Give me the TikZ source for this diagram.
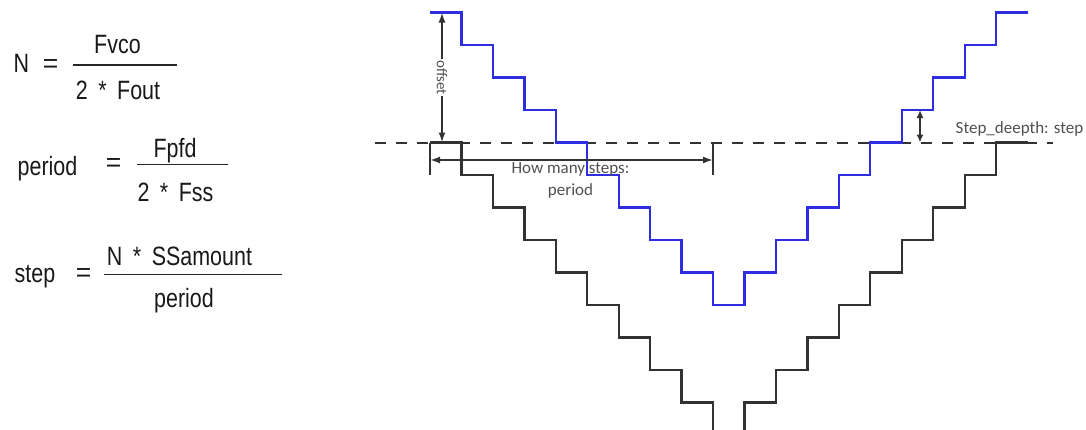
\documentclass[tikz,border=0pt]{standalone}
\usepackage{fontspec}
\setmainfont{Liberation Sans}
\newfontfamily\eqfont[FakeStretch=0.81]{Liberation Sans}
\newfontfamily\lblfont{Carlito}
\usetikzlibrary{arrows.meta}
\definecolor{stairblue}{RGB}{45,45,225}
\definecolor{stairdark}{RGB}{50,50,50}
\definecolor{lblgray}{RGB}{80,80,80}
\newcommand\eqgap{\hspace{10.5pt}}
\tikzset{
  eqtext/.style={font=\eqfont\fontsize{26.5}{30}\selectfont, inner sep=0pt, anchor=base, text=black!90},
  eqsign/.style={font=\fontsize{26.5}{30}\selectfont, inner sep=0pt, anchor=center, text=black!90},
  fracbar/.style={line width=1.4pt, draw=black!85},
  blueline/.style={draw=stairblue, line width=2.3pt},
  darkline/.style={draw=stairdark, line width=2.3pt},
  dimline/.style={{Latex[length=10pt,width=7pt]}-{Latex[length=10pt,width=7pt]}, line width=1.8pt, draw=stairdark},
  tickline/.style={draw=stairdark, line width=2pt},
  dashline/.style={draw=stairdark, line width=2pt, dash pattern=on 11pt off 10pt},
  lbl/.style={font=\lblfont\fontsize{17}{21}\selectfont, text=lblgray, inner sep=0pt},
}
\begin{document}
\begin{tikzpicture}[x=1pt,y=-1pt]
\useasboundingbox (0,0) rectangle (1086,429);
% ---- equations
\node[eqtext] (nL) at (21.5,72.7) {N};
\node[eqsign] (nEq) at (50.5,65.5) {=};
\draw[fracbar] (73,65) -- (177,65);
\node[eqtext] (nNum) at (117.5,53.8) {Fvco};
\node[eqtext] (nDen) at (118,99.5) {2\eqgap*\eqgap Fout};

\node[eqtext] (pL) at (47.5,175) {period};
\node[eqsign] (pEq) at (113.5,164.5) {=};
\draw[fracbar] (137,164.3) -- (228,164.3);
\node[eqtext] (pNum) at (175,157) {Fpfd};
\node[eqtext] (pDen) at (175.5,201) {2\eqgap*\eqgap Fss};

\node[eqtext] (sL) at (35,282.7) {step};
\node[eqsign] (sEq) at (83.5,275.3) {=};
\draw[fracbar] (104,274.3) -- (282,274.3);
\node[eqtext] (sNum) at (179.5,265) {N\eqgap*\eqgap SSamount};
\node[eqtext] (sDen) at (184,307.3) {period};

% ---- diagram
\def\sw{31.45}
\def\sh{32.5}
\draw[dashline] (375,142.5) -- (1053,142.5);
\begin{scope}
\clip (0,0) rectangle (1086,429);
\draw[darkline] (430,142.5) -- ++(\sw,0)
  foreach \i in {1,...,9}{ -- ++(0,\sh) -- ++(\sw,0)}
  foreach \i in {1,...,9}{ -- ++(0,-\sh) -- ++(\sw,0)};
\end{scope}
\draw[blueline] (430,12.5) -- ++(\sw,0)
  foreach \i in {1,...,9}{ -- ++(0,\sh) -- ++(\sw,0)}
  foreach \i in {1,...,9}{ -- ++(0,-\sh) -- ++(\sw,0)};

% offset
\coordinate (offTop) at (442,12.5);
\coordinate (offBot) at (442,142.5);
\draw[dimline] (offTop) -- (offBot);
\node[lbl, font=\lblfont\fontsize{15}{18}\selectfont, rotate=-90, fill=white, inner sep=1pt] (offLbl) at (442,77.5) {offset};

% period
\coordinate (tkLa) at (430,142.5);
\coordinate (tkLb) at (430,175);
\coordinate (tkRa) at (713.05,142.5);
\coordinate (tkRb) at (713.05,175);
\draw[tickline] (tkLa) -- (tkLb);
\draw[tickline] (tkRa) -- (tkRb);
\coordinate (perL) at (430,160);
\coordinate (perR) at (713.05,160);
\draw[dimline] (perL) -- (perR);
\node[lbl, anchor=base] (perLbl1) at (570.5,173.3) {How many steps:};
\node[lbl, anchor=base] (perLbl2) at (570.5,195) {period};

% step depth
\coordinate (sdTop) at (920,110);
\coordinate (sdBot) at (920,142.5);
\draw[{Latex[length=8pt,width=7pt]}-{Latex[length=8pt,width=7pt]}, line width=1.8pt, draw=stairdark] (sdTop) -- (sdBot);
\node[lbl, anchor=base west] (sdLbl) at (955.5,133) {Step\_deepth: step};
\end{tikzpicture}
\end{document}
